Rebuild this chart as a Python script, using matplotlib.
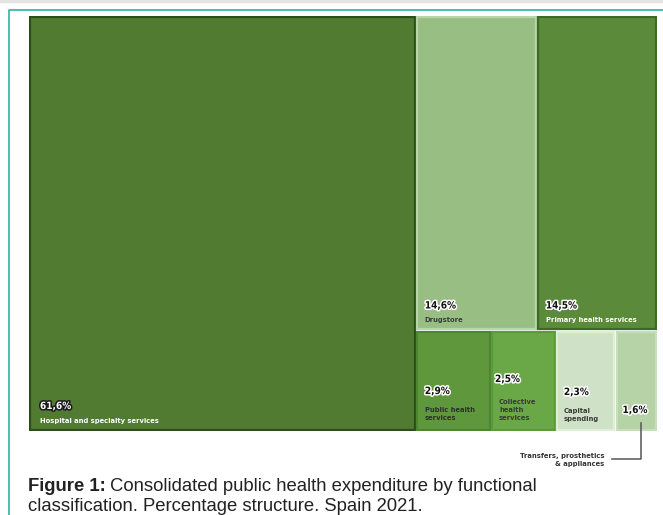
import matplotlib
matplotlib.use("Agg")
import matplotlib.pyplot as plt
import matplotlib.patheffects as pe
from matplotlib.patches import Rectangle
from matplotlib.lines import Line2D

# Consolidated public health expenditure by function, Spain 2021 (%)
categories = [
    "Hospital and specialty services",
    "Drugstore",
    "Primary health services",
    "Public health\nservices",
    "Collective\nhealth\nservices",
    "Capital\nspending",
    "Transfers, prosthetics\n& appliances",
]
values = [61.6, 14.6, 14.5, 2.9, 2.5, 2.3, 1.6]
value_labels = ["61,6%", "14,6%", "14,5%", "2,9%", "2,5%", "2,3%", "1,6%"]

fills = ["#507b30", "#98be84", "#5b8b3a", "#5e973c", "#6aa847", "#cfe1c7", "#b6d3a8"]
edges = ["#2b4f17", "#b9d6a9", "#3b6a22", "#4d8530", "#5b9a3a", "#dfeed9", "#c6dfba"]
name_colors = ["white", "#3c3c3c", "white", "#2f2f2f", "#3a3a3a", "#3a3a3a", "#333333"]

W, H = 663, 515
fig = plt.figure(figsize=(W / 100, H / 100), dpi=100)
fig.patch.set_facecolor("white")

# treemap area in pixels
L, T, R, B = 29, 16, 657, 431
ax = fig.add_axes([L / W, 1 - B / H, (R - L) / W, (B - T) / H])
ax.set_xlim(0, 1)
ax.set_ylim(0, 1)
ax.axis("off")

total = sum(values)
# layout: main block on the left, right column split into a top row (2 tiles)
# and a bottom row (4 tiles)
w0 = values[0] / total
rest = total - values[0]
top_sum = values[1] + values[2]
bot_sum = sum(values[3:])
h_top = top_sum / rest
rects = [(0.0, 0.0, w0, 1.0)]
x = w0
for v in values[1:3]:
    w = (1 - w0) * v / top_sum
    rects.append((x, 1 - h_top, w, h_top))
    x += w
x = w0
for v in values[3:]:
    w = (1 - w0) * v / bot_sum
    rects.append((x, 0.0, w, 1 - h_top))
    x += w

px = 1 / (R - L)
py = 1 / (B - T)
gap = 1.2
for (x0, y0, w, h), fc, ec in zip(rects, fills, edges):
    ax.add_patch(Rectangle((x0 + gap * px, y0 + gap * py), w - 2 * gap * px, h - 2 * gap * py,
                           facecolor=fc, edgecolor=ec, linewidth=1.6))

narrow = ["DejaVu Sans"]
pct_font = dict(family=narrow, weight="bold", stretch="condensed")
name_font = dict(family=narrow, weight="bold", stretch="condensed")

# offsets (pixels) from each tile's lower-left corner
pct_off = [(11, 25), (9, 25), (9, 25), (9, 40), (4, 52), (8, 39), (7, 21)]
name_off = [(11, 10), (9, 10), (9, 10), (9, 17), (8, 21), (8, 16), None]

for i, (x0, y0, w, h) in enumerate(rects):
    if i == 0:
        fcol, scol = "white", "#1a1a1a"
    else:
        fcol, scol = "#111111", "white"
    ax.annotate(value_labels[i], xy=(x0, y0), xytext=pct_off[i], textcoords="offset pixels",
                ha="left", va="center", fontsize=7.2, color=fcol,
                path_effects=[pe.withStroke(linewidth=2.2, foreground=scol)], **pct_font)
    if name_off[i] is not None:
        ax.annotate(categories[i], xy=(x0, y0), xytext=name_off[i], textcoords="offset pixels",
                    ha="left", va="center", fontsize=5.4, color=name_colors[i],
                    linespacing=1.35, **name_font)

# callout for the smallest tile
tx0, ty0, tw, th = rects[6]
cx = tx0 + tw * 0.62
ax.add_line(Line2D([cx, cx, cx - 29 * px], [8 * py, -28 * py, -28 * py],
                   color="#555555", linewidth=1.1, clip_on=False))
ax.annotate(categories[6], xy=(cx, 0), xytext=(-37, -29), textcoords="offset pixels",
            ha="right", va="center", fontsize=5.4, color="#333333",
            linespacing=1.4, **name_font)

# page decorations: grey top rule and teal frame
fig.add_artist(Line2D([0, 1], [1 - 1 / H, 1 - 1 / H], transform=fig.transFigure,
                      color="#e3e3e3", linewidth=2.5))
fig.add_artist(Line2D([8.5 / W, 8.5 / W, 1], [0, 1 - 9.5 / H, 1 - 9.5 / H],
                      transform=fig.transFigure, color="#2bb59f", linewidth=1.2))

# caption
cap_font = dict(family=["Liberation Sans", "DejaVu Sans"], fontsize=13.3, color="#222222")
t1 = fig.text(28 / W, 1 - 491 / H, "Figure 1:", weight="bold", va="baseline", ha="left", **cap_font)
fig.canvas.draw()
bb = t1.get_window_extent(fig.canvas.get_renderer())
fig.text((bb.x1 + 4) / W, 1 - 491 / H,
         "Consolidated public health expenditure by functional",
         va="baseline", ha="left", **cap_font)
fig.text(28 / W, 1 - 511 / H, "classification. Percentage structure. Spain 2021.",
         va="baseline", ha="left", **cap_font)

fig.savefig("out.png", dpi=100, facecolor="white")
